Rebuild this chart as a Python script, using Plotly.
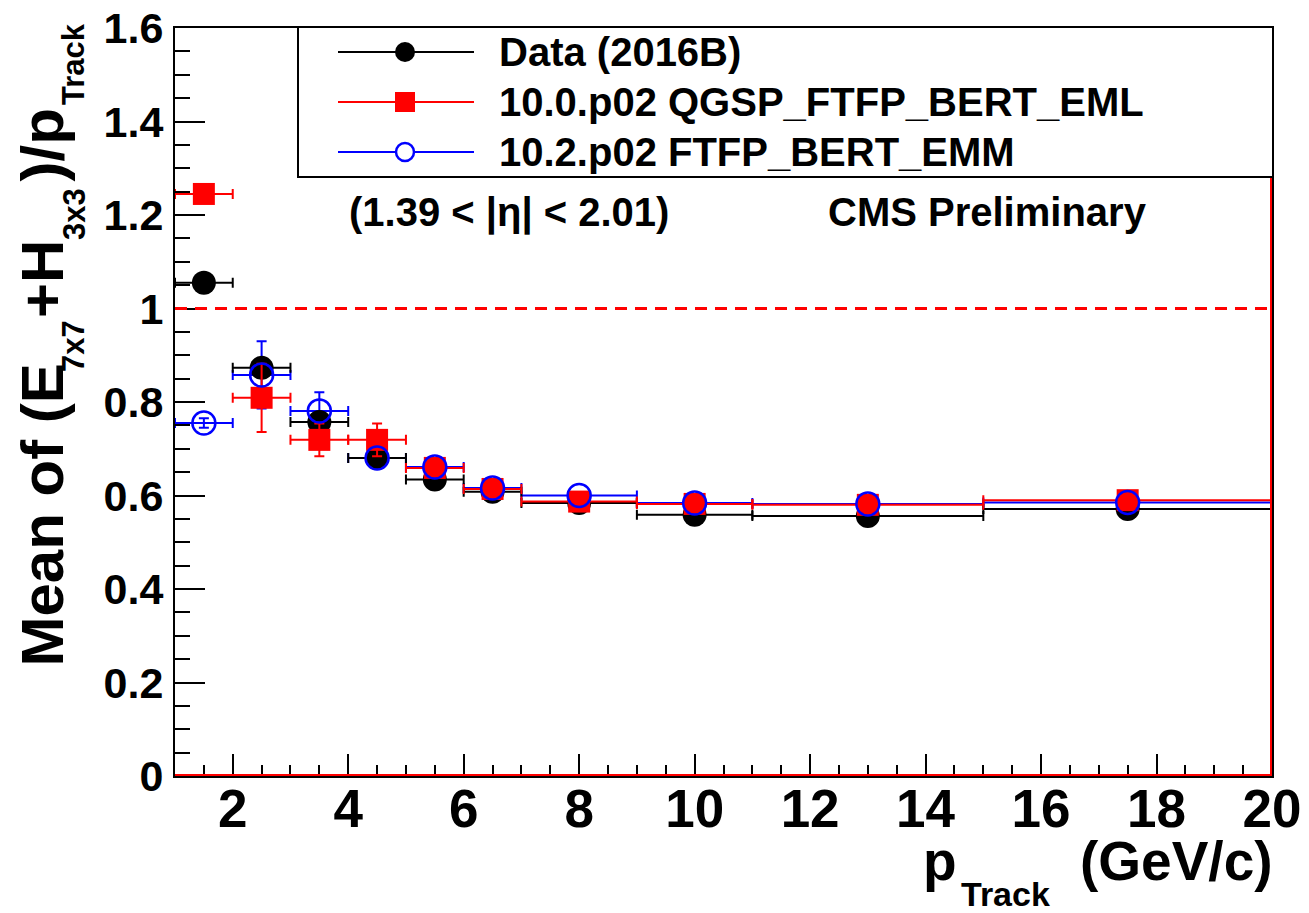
import plotly.graph_objects as go

# ---------------- data ----------------
p_track = [1.5, 2.5, 3.5, 4.5, 5.5, 6.5, 8.0, 10.0, 13.0, 17.5]
p_halfwidth = [0.5, 0.5, 0.5, 0.5, 0.5, 0.5, 1.0, 1.0, 2.0, 2.5]

data_mean = [1.055, 0.873, 0.757, 0.680, 0.634, 0.608, 0.584, 0.559, 0.556, 0.571]
data_err = [0.010, 0.015, 0.012, 0.008, 0.006, 0.005, 0.004, 0.004, 0.004, 0.005]

eml_mean = [1.245, 0.809, 0.719, 0.719, 0.659, 0.614, 0.587, 0.582, 0.580, 0.590]
eml_err = [0.012, 0.073, 0.035, 0.035, 0.012, 0.008, 0.006, 0.006, 0.005, 0.006]

emm_mean = [0.755, 0.858, 0.781, 0.680, 0.661, 0.616, 0.600, 0.584, 0.582, 0.585]
emm_err = [0.010, 0.072, 0.040, 0.012, 0.010, 0.008, 0.005, 0.005, 0.004, 0.005]

series_names = ["Data (2016B)", "10.0.p02 QGSP_FTFP_BERT_EML", "10.2.p02 FTFP_BERT_EMM"]
reference_level = 1.0
x_range = [1, 20]
y_range = [0, 1.6]

# ---------------- layout geometry (pixels) ----------------
W, H = 1309, 913
PX0, PX1 = 175, 1272   # plot area left/right
PY1, PY0 = 28, 776     # plot area top/bottom

def xp(px):
    return (px - PX0) / (PX1 - PX0)

def yp(py):
    return (PY0 - py) / (PY0 - PY1)

FONT = "Liberation Sans, Arial, Helvetica, sans-serif"

fig = go.Figure()

colors = ["black", "red", "blue"]

def err_bars(arr, c):
    return dict(type="data", array=arr, color=c, thickness=2, width=5)

# blue error bars first, so they sit beneath the other markers
fig.add_trace(go.Scatter(
    x=p_track, y=emm_mean, mode="markers", name=series_names[2] + " errors",
    marker=dict(size=1, opacity=0, color="blue"),
    error_x=err_bars(p_halfwidth, "blue"), error_y=err_bars(emm_err, "blue"),
    showlegend=False, hoverinfo="skip",
))
fig.add_trace(go.Scatter(
    x=p_track, y=data_mean, mode="markers", name=series_names[0],
    marker=dict(color="black", symbol="circle", size=24, line=dict(width=0)),
    error_x=err_bars(p_halfwidth, "black"), error_y=err_bars(data_err, "black"),
    showlegend=False,
))
fig.add_trace(go.Scatter(
    x=p_track, y=eml_mean, mode="markers", name=series_names[1],
    marker=dict(color="red", symbol="square", size=22, line=dict(width=0)),
    error_x=err_bars(p_halfwidth, "red"), error_y=err_bars(eml_err, "red"),
    showlegend=False,
))
fig.add_trace(go.Scatter(
    x=p_track, y=emm_mean, mode="markers", name=series_names[2],
    marker=dict(color="blue", symbol="circle-open", size=23, line=dict(width=2.5, color="blue")),
    showlegend=False,
))

shapes = []
# reference dashed line at 1
shapes.append(dict(type="line", xref="x", yref="y", x0=x_range[0], x1=x_range[1],
                   y0=reference_level, y1=reference_level,
                   line=dict(color="red", width=3, dash="12px,8px"), layer="above"))
# red histogram frame lines (just inside the black frame)
shapes.append(dict(type="line", xref="paper", yref="paper", x0=xp(1271), x1=xp(1271), y0=0, y1=1,
                   line=dict(color="red", width=2), layer="above"))
shapes.append(dict(type="line", xref="paper", yref="paper", x0=0, x1=1, y0=yp(775), y1=yp(775),
                   line=dict(color="red", width=2), layer="above"))

# manual legend box
shapes.append(dict(type="rect", xref="paper", yref="paper", x0=xp(298), x1=xp(1273), y0=yp(177), y1=yp(27),
                   line=dict(color="black", width=2), fillcolor="white", layer="above"))
rows = [52, 102, 152]
for r, c in zip(rows, colors):
    shapes.append(dict(type="line", xref="paper", yref="paper", x0=xp(338), x1=xp(474), y0=yp(r), y1=yp(r),
                       line=dict(color=c, width=2), layer="above"))
mx = 405
rad = 10
shapes.append(dict(type="circle", xref="paper", yref="paper", x0=xp(mx - rad), x1=xp(mx + rad),
                   y0=yp(rows[0] + rad), y1=yp(rows[0] - rad), fillcolor="black", line=dict(color="black", width=0),
                   layer="above"))
shapes.append(dict(type="rect", xref="paper", yref="paper", x0=xp(mx - rad), x1=xp(mx + rad),
                   y0=yp(rows[1] + rad), y1=yp(rows[1] - rad), fillcolor="red", line=dict(color="red", width=0),
                   layer="above"))
shapes.append(dict(type="circle", xref="paper", yref="paper", x0=xp(mx - rad + 1), x1=xp(mx + rad - 1),
                   y0=yp(rows[2] + rad - 1), y1=yp(rows[2] - rad + 1), fillcolor="white",
                   line=dict(color="blue", width=2.5), layer="above"))

annotations = []
for name, r in zip(series_names, rows):
    annotations.append(dict(text="<b>%s</b>" % name, xref="paper", yref="paper", x=xp(497), y=yp(r),
                            xanchor="left", yanchor="middle", showarrow=False,
                            font=dict(family=FONT, size=40, color="black")))

annotations.append(dict(text="<b>(1.39 < |η| < 2.01)</b>", xref="paper", yref="paper", x=xp(347), y=yp(212),
                        xanchor="left", yanchor="middle", showarrow=False,
                        font=dict(family=FONT, size=40, color="black")))
annotations.append(dict(text="<b>CMS Preliminary</b>", xref="paper", yref="paper", x=xp(826), y=yp(212),
                        xanchor="left", yanchor="middle", showarrow=False,
                        font=dict(family=FONT, size=40, color="black")))

# ---- x axis title: p_Track (GeV/c)
MAIN_X, SUB_X = 55, 34
annotations.append(dict(text="<b>p</b>", xref="paper", yref="paper", x=xp(921), y=yp(861),
                        xanchor="left", yanchor="middle", showarrow=False,
                        font=dict(family=FONT, size=MAIN_X, color="black")))
annotations.append(dict(text="<b>Track</b>", xref="paper", yref="paper", x=xp(959), y=yp(894),
                        xanchor="left", yanchor="middle", showarrow=False,
                        font=dict(family=FONT, size=SUB_X, color="black")))
annotations.append(dict(text="<b>(GeV/c)</b>", xref="paper", yref="paper", x=xp(1275), y=yp(861),
                        xanchor="right", yanchor="middle", showarrow=False,
                        font=dict(family=FONT, size=MAIN_X, color="black")))

# ---- y axis title: Mean of (E_7x7+H_3x3)/p_Track  (rotated, built from pieces)
MAIN_Y, SUB_Y = 60, 31
# (text, is_subscript, bottom pixel where the piece starts)
pieces = [("Mean of (E", False, 668), ("7x7", True, 373), ("+H", False, 319),
          ("3x3", True, 241), (")/p", False, 183), ("Track", True, 106)]
for txt, is_sub, start in pieces:
    fs = SUB_Y if is_sub else MAIN_Y
    xc = 74 if is_sub else 42
    annotations.append(dict(text="<b>%s</b>" % txt, xref="paper", yref="paper", x=xp(xc), y=yp(start),
                            xanchor="center", yanchor="bottom", textangle=-90, showarrow=False,
                            borderpad=0, font=dict(family=FONT, size=fs, color="black")))

fig.update_layout(
    width=W, height=H,
    margin=dict(l=PX0, r=W - PX1, t=PY1, b=H - PY0, autoexpand=False),
    plot_bgcolor="white", paper_bgcolor="white",
    shapes=shapes, annotations=annotations,
    showlegend=False,
    xaxis=dict(range=x_range, tick0=0, dtick=2, ticks="inside", ticklen=22, tickwidth=2, tickcolor="black",
               minor=dict(dtick=0.5, ticks="inside", ticklen=11, tickwidth=2, tickcolor="black"),
               showline=True, linecolor="black", linewidth=2, mirror=True, showgrid=False, zeroline=False,
               automargin=False,
               tickfont=dict(family=FONT, size=53, color="black", weight="bold"), ticklabelstandoff=-15),
    yaxis=dict(range=y_range, tick0=0, dtick=0.2, ticks="inside", ticklen=30, tickwidth=2, tickcolor="black",
               minor=dict(dtick=0.05, ticks="inside", ticklen=15, tickwidth=2, tickcolor="black"),
               showline=True, linecolor="black", linewidth=2, mirror=True, showgrid=False, zeroline=False,
               automargin=False, tickformat="~g",
               tickfont=dict(family=FONT, size=43, color="black", weight="bold"), ticklabelstandoff=1),
)

fig.write_html("out.html", config={"displayModeBar": False},
               post_script="document.body.style.margin='0px';")
